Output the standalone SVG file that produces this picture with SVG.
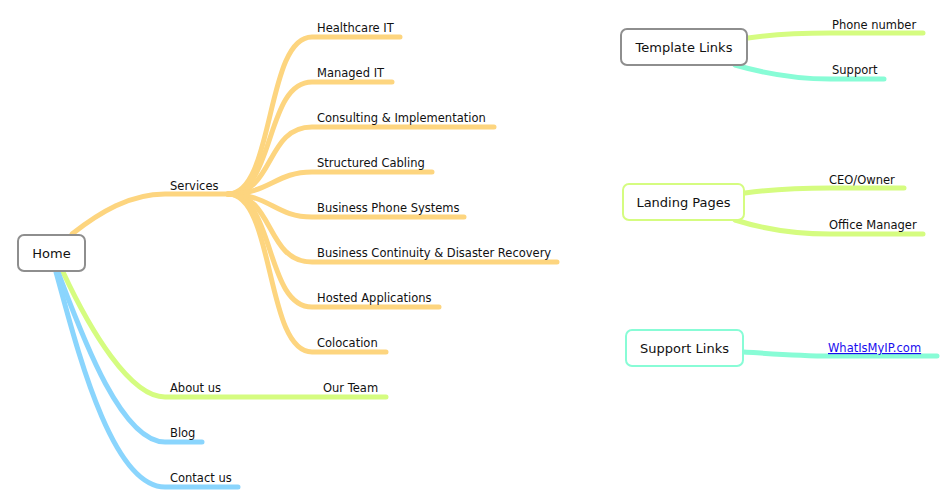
<svg xmlns="http://www.w3.org/2000/svg" width="946" height="504" viewBox="0 0 946 504">
<style>
text{font-family:"DejaVu Sans","Liberation Sans",sans-serif;fill:#111;}
.lbl{font-size:11.5px;}
.node{font-size:13px;text-anchor:middle;}
.c{fill:none;stroke-width:5;stroke-linecap:round;stroke-linejoin:round;}
.o{stroke:#fdd57f;}
.g{stroke:#d5fc80;}
.b{stroke:#8ad5fd;}
.a{stroke:#88fcd6;}
.box{fill:#fff;stroke-width:2;}
.link{fill:#1a0dee;text-decoration:underline;}
</style>
<rect width="946" height="504" fill="#fff"/>
<g id="connectors">
<path class="c o" d="M72,234 C100,212 130,194 165,194 L228,194"/>
<path class="c o" d="M228,194 C275,194 265,37 312,37 L400,37"/>
<path class="c o" d="M228,194 C275,194 265,82 312,82 L392,82"/>
<path class="c o" d="M228,194 C275,194 265,127 312,127 L494,127"/>
<path class="c o" d="M228,194 C270,194 275,172 312,172 L432,172"/>
<path class="c o" d="M228,194 C270,194 275,217 312,217 L464,217"/>
<path class="c o" d="M228,194 C275,194 265,262 312,262 L557,262"/>
<path class="c o" d="M228,194 C275,194 265,307 312,307 L439,307"/>
<path class="c o" d="M228,194 C275,194 265,352 312,352 L386,352"/>
<path class="c g" d="M63,272 C90,330 130,397 165,397 L386,397"/>
<path class="c b" d="M58,272 C80,330 120,442 165,442 L202,442"/>
<path class="c b" d="M56,272 C75,340 110,487 165,487 L238,487"/>
<path class="c g" d="M748,38 C775,34 800,33 830,33 L923,33"/>
<path class="c a" d="M735,65 C770,75 800,79 830,79 L884,79"/>
<path class="c g" d="M745,193 C775,189 800,188 830,188 L904,188"/>
<path class="c g" d="M735,220 C770,231 800,234 830,234 L923,234"/>
<path class="c a" d="M744,352 C775,354 800,356 830,356 L937,356"/>
</g>
<g id="home"><rect class="box" x="18" y="235" width="67" height="36" rx="6" stroke="#8e8e8e"/><text class="node" x="51.5" y="258">Home</text></g>
<g id="services"><text class="lbl" x="170" y="190">Services</text></g>
<g id="healthcare"><text class="lbl" x="317" y="32">Healthcare IT</text></g>
<g id="managed"><text class="lbl" x="317" y="77">Managed IT</text></g>
<g id="consulting"><text class="lbl" x="317" y="122">Consulting &amp; Implementation</text></g>
<g id="cabling"><text class="lbl" x="317" y="167">Structured Cabling</text></g>
<g id="phone-systems"><text class="lbl" x="317" y="212">Business Phone Systems</text></g>
<g id="continuity"><text class="lbl" x="317" y="257">Business Continuity &amp; Disaster Recovery</text></g>
<g id="hosted"><text class="lbl" x="317" y="302">Hosted Applications</text></g>
<g id="colocation"><text class="lbl" x="317" y="347">Colocation</text></g>
<g id="about"><text class="lbl" x="170" y="392">About us</text></g>
<g id="team"><text class="lbl" x="323" y="392">Our Team</text></g>
<g id="blog"><text class="lbl" x="170" y="437">Blog</text></g>
<g id="contact"><text class="lbl" x="170" y="482">Contact us</text></g>
<g id="template"><rect class="box" x="621" y="29" width="126" height="36" rx="6" stroke="#8e8e8e"/><text class="node" x="684" y="52">Template Links</text></g>
<g id="phone-number"><text class="lbl" x="832" y="29">Phone number</text></g>
<g id="support"><text class="lbl" x="832" y="74">Support</text></g>
<g id="landing"><rect class="box" x="623" y="184" width="121" height="36" rx="6" stroke="#d5fc80"/><text class="node" x="683.5" y="207">Landing Pages</text></g>
<g id="ceo"><text class="lbl" x="829" y="184">CEO/Owner</text></g>
<g id="office"><text class="lbl" x="829" y="229">Office Manager</text></g>
<g id="support-links"><rect class="box" x="626" y="330" width="117" height="36" rx="6" stroke="#88fcd6"/><text class="node" x="684.5" y="353">Support Links</text></g>
<g id="whatismyip"><text class="lbl link" x="828" y="352">WhatIsMyIP.com</text></g>
</svg>
